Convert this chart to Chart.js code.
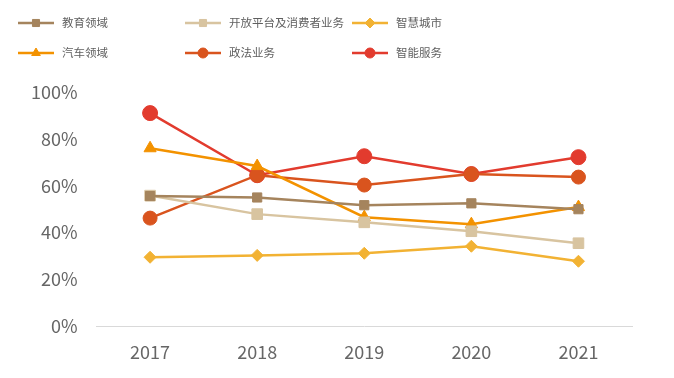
<!DOCTYPE html>
<html>
<head>
<meta charset="utf-8">
<script src="https://cdn.jsdelivr.net/npm/chart.js@4/dist/chart.umd.min.js"></script>
<style>
  html, body { margin: 0; padding: 0; background: #fff; }
  #wrap { width: 674px; height: 378px; position: relative; }
</style>
</head>
<body>
<div id="wrap"><canvas id="c" width="674" height="378"></canvas></div>
<script>
// years on the x axis
const years = ['2017', '2018', '2019', '2020', '2021'];

// series values (%)
const education = [55.6, 55.0, 51.7, 52.5, 50.0];
const openPlatform = [55.8, 47.9, 44.4, 40.6, 35.5];
const smartCity = [29.5, 30.3, 31.2, 34.2, 27.8];
const automotive = [76.0, 68.4, 46.6, 43.6, 50.9];
const legalAffairs = [46.2, 64.5, 60.3, 65.0, 63.7];
const smartService = [91.0, 64.5, 72.6, 65.0, 72.2];

const seriesNames = ['教育领域', '开放平台及消费者业务', '智慧城市', '汽车领域', '政法业务', '智能服务'];
const seriesData = [education, openPlatform, smartCity, automotive, legalAffairs, smartService];
const seriesColors = ['#A5845D', '#D8C4A0', '#F2B233', '#F39200', '#D9541E', '#E23B2E'];
const seriesMarkers = ['rect', 'rect', 'rectRot', 'triangle', 'circle', 'circle'];
const markerSizes = [6.5, 7.5, 6, 7, 7, 7.5];

const FONT = '"Noto Sans CJK SC", "Noto Sans", sans-serif';

// legend drawn on the canvas in a 3-column grid
const legendPlugin = {
  id: 'gridLegend',
  afterDraw(chart) {
    const ctx = chart.ctx;
    const colX = [18, 185, 352];
    const rowY = [23, 53];
    chart.data.datasets.forEach((ds, i) => {
      const x = colX[i % 3];
      const y = rowY[Math.floor(i / 3)];
      ctx.save();
      ctx.strokeStyle = ds.borderColor;
      ctx.lineWidth = 2.5;
      ctx.beginPath();
      ctx.moveTo(x, y);
      ctx.lineTo(x + 36, y);
      ctx.stroke();
      ctx.fillStyle = ds.borderColor;
      ctx.lineWidth = 1;
      Chart.helpers.drawPoint(ctx, { pointStyle: ds.pointStyle, radius: 5, borderWidth: 1 }, x + 18, y);
      ctx.fillStyle = '#5f5f5f';
      ctx.font = '11.5px ' + FONT;
      ctx.textBaseline = 'middle';
      ctx.fillText(ds.label, x + 44, y);
      ctx.restore();
    });
  }
};

const datasets = seriesNames.map((name, i) => ({
  label: name,
  data: seriesData[i],
  borderColor: seriesColors[i],
  backgroundColor: seriesColors[i],
  pointStyle: seriesMarkers[i],
  pointRadius: markerSizes[i],
  pointHoverRadius: markerSizes[i],
  pointBorderWidth: 1,
  borderWidth: 2.5,
  tension: 0
}));

new Chart(document.getElementById('c').getContext('2d'), {
  type: 'line',
  data: { labels: years, datasets: datasets },
  options: {
    responsive: false,
    animation: false,
    layout: { padding: { top: 92, right: 42, left: 12, bottom: 0 } },
    plugins: {
      legend: { display: false },
      tooltip: { enabled: false }
    },
    scales: {
      x: {
        offset: true,
        grid: { display: false, drawTicks: false },
        border: { display: true, color: '#D9D9D9', width: 1 },
        ticks: { color: '#666666', font: { family: FONT, size: 18 }, padding: 15 }
      },
      y: {
        min: 0,
        max: 100,
        grid: { display: false, drawTicks: false },
        border: { display: false },
        ticks: {
          stepSize: 20,
          color: '#666666',
          font: { family: FONT, size: 18 },
          padding: 19,
          callback: (v) => v + '%'
        }
      }
    }
  },
  plugins: [legendPlugin]
});
</script>
</body>
</html>
